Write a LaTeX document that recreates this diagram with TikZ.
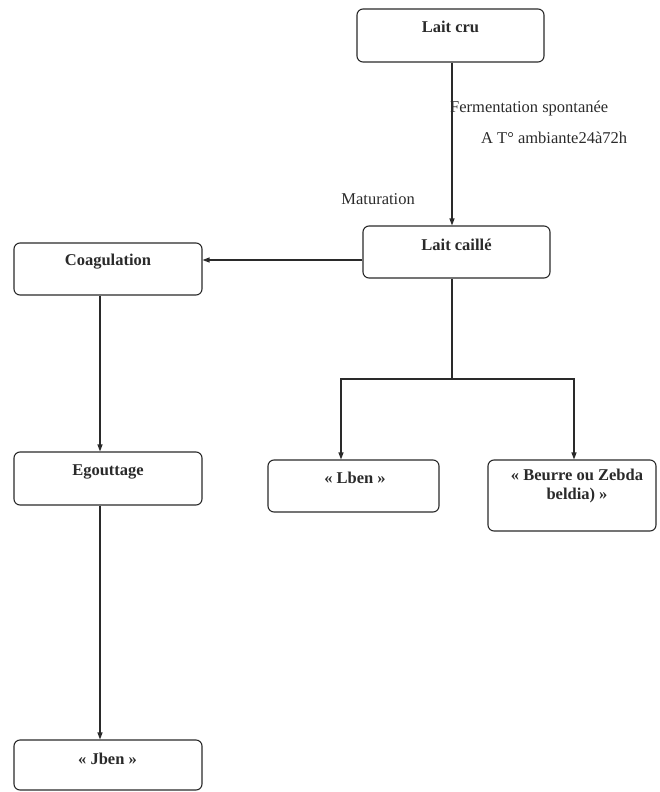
\documentclass[tikz,border=0pt]{standalone}
\usepackage{fontspec}
\setmainfont{Liberation Serif}
\usetikzlibrary{arrows.meta}
\definecolor{ink}{HTML}{2A2A2A}
\begin{document}
\begin{tikzpicture}[x=1pt,y=-1pt,
  box/.style={draw=ink,line width=1.1pt,rounded corners=6pt,inner sep=0pt},
  btxt/.style={font=\fontsize{16.5}{19}\selectfont\bfseries,text=ink,inner sep=0pt,align=center},
  ltxt/.style={font=\fontsize{16.5}{19}\selectfont,text=ink,inner sep=0pt},
  conn/.style={draw=ink,line width=1.2pt},
  arr/.style={conn,-{Triangle[length=7pt,width=5pt]}}]
\useasboundingbox (0,0) rectangle (659,792);
% boxes
\node[box,minimum width=187pt,minimum height=53pt] (cru) at (450.5,35.5) {};
\node[btxt] (cruT) at (450.5,27) {Lait cru};
\node[box,minimum width=187pt,minimum height=52pt] (caille) at (456.5,252) {};
\node[btxt] (cailleT) at (456.5,245) {Lait caillé};
\node[box,minimum width=188pt,minimum height=52pt] (coag) at (108,269) {};
\node[btxt] (coagT) at (108,262) {Coagulation};
\node[box,minimum width=188pt,minimum height=53pt] (egout) at (108,478.5) {};
\node[btxt] (egoutT) at (108,472) {Egouttage};
\node[box,minimum width=171pt,minimum height=52pt] (lben) at (353.5,486) {};
\node[btxt] (lbenT) at (355,478) {« Lben »};
\node[box,minimum width=168pt,minimum height=71pt] (beurre) at (572,495.5) {};
\node[btxt] (beurreT) at (577,486) {« Beurre ou Zebda\\ beldia) »};
\node[box,minimum width=188pt,minimum height=50pt] (jben) at (108,765) {};
\node[btxt] (jbenT) at (107.5,759) {« Jben »};
% labels
\node[ltxt,anchor=west] (ferm) at (450,109) {Fermentation spontanée};
\node[ltxt,anchor=west] (temp) at (481,138) {A T° ambiante24à72h};
\node[ltxt,anchor=east] (mat) at (415,199) {Maturation};
% helper coordinates
\coordinate (x452) at (452,0);
\coordinate (y260) at (0,260);
\coordinate (x100) at (100,0);
\coordinate (j) at (452,379);
\coordinate (jl) at (341,379);
\coordinate (jr) at (574,379);
% connectors
\draw[arr] (cru.south -| x452) -- (caille.north -| x452);
\draw[arr] (caille.west |- y260) -- (coag.east |- y260);
\draw[arr] (coag.south -| x100) -- (egout.north -| x100);
\draw[arr] (egout.south -| x100) -- (jben.north -| x100);
\draw[conn] (caille.south -| x452) -- (j);
\draw[conn,line cap=rect] (jl) -- (jr);
\draw[arr] (jl) -- (lben.north -| jl);
\draw[arr] (jr) -- (beurre.north -| jr);
\end{tikzpicture}
\end{document}
